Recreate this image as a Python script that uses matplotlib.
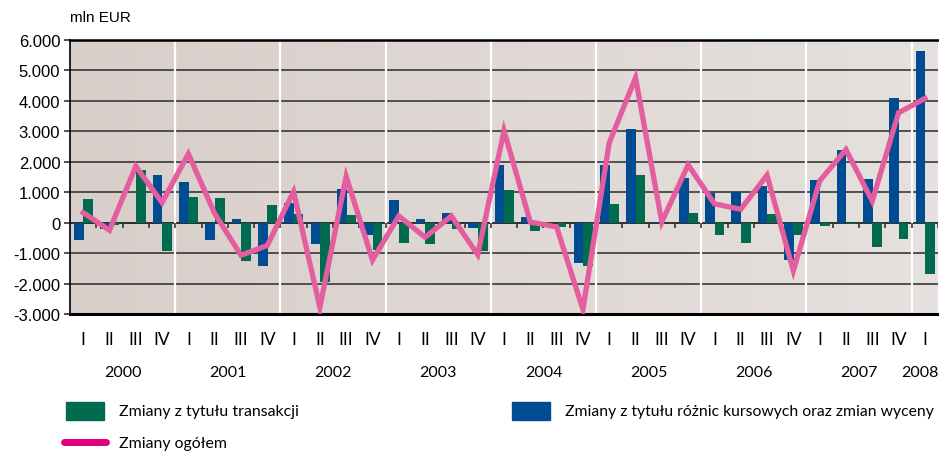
import matplotlib
matplotlib.use("Agg")
import matplotlib.pyplot as plt
import numpy as np

# quarterly data 2000 Q1 .. 2008 Q1, mln EUR
years = [2000, 2001, 2002, 2003, 2004, 2005, 2006, 2007, 2008]
quarters = ["I", "II", "III", "IV"]

transakcje = [790, -80, 1740, -940, 850, 820, -1270, 590,
              300, -1950, 240, -910, -660, -690, -220, -940,
              1060, -280, -150, -1430, 620, 1570, -20, 330,
              -410, -660, 300, -410, -120, -50, -810, -550,
              -1670]
kursowe = [-580, -200, 0, 1570, 1340, -580, 130, -1430,
           650, -690, 1110, -410, 750, 130, 330, -160,
           1880, 190, -20, -1340, 1900, 3080, 30, 1480,
           990, 1000, 1190, -1210, 1410, 2390, 1440, 4100,
           5640]
ogolem = [330, -250, 1850, 660, 2260, 300, -1070, -750,
          1020, -2780, 1520, -1230, 220, -480, 220, -1050,
          3020, 20, -140, -2850, 2620, 4760, 20, 1900,
          620, 440, 1560, -1580, 1370, 2400, 710, 3610,
          4080]

y_ticks = [-3000, -2000, -1000, 0, 1000, 2000, 3000, 4000, 5000, 6000]

GREEN = "#006b4e"
BLUE = "#004c93"
PINK = "#e35d9f"
PINK_LEG = "#e0007a"

NARROW = ["Lato", "DejaVu Sans"]
REG = ["Liberation Sans", "DejaVu Sans"]

W, H = 939, 452
n = len(ogolem)
x = np.arange(n)

fig = plt.figure(figsize=(W / 100, H / 100), dpi=100)
ax = fig.add_axes([70 / W, 137 / H, 868 / W, 274 / H])
renderer = fig.canvas.get_renderer()


def fit_width(t, width_px):
    # shrink/grow the font so the text spans about width_px
    bb = t.get_window_extent(renderer=renderer)
    t.set_fontsize(t.get_fontsize() * width_px / bb.width)


# background gradient
grad = np.linspace(0, 1, 256).reshape(1, -1)
c0 = np.array([0xd8, 0xce, 0xca]) / 255
c1 = np.array([0xe6, 0xe1, 0xde]) / 255
img = c0[None, None, :] * (1 - grad[..., None]) + c1[None, None, :] * grad[..., None]
ax.imshow(img, extent=[-0.5, n - 0.5, -3000, 6000], aspect="auto", zorder=0)

# gridlines
for v in y_ticks[1:-1]:
    ax.axhline(v, color="#2a2a2a" if v != 0 else "black", lw=1.1, zorder=1)

# year separators
for k in range(1, len(years)):
    ax.axvline(4 * k - 0.5, color="white", lw=1.6, zorder=1)

w = 0.37
ax.bar(x - 0.17, kursowe, width=w, color=BLUE, zorder=2)
ax.bar(x + 0.19, transakcje, width=w, color=GREEN, zorder=2)
ax.plot(x, ogolem, color=PINK, lw=3.8, zorder=3, solid_joinstyle="miter")

# small ticks on the zero line at quarter boundaries
ax.vlines(np.arange(n) + 0.5, -170, 0, color="#333333", lw=1.2, zorder=2)

ax.set_xlim(-0.5, n - 0.5)
ax.set_ylim(-3000, 6000)
ax.set_yticks(y_ticks)
ax.set_yticklabels(["{:,}".format(v).replace(",", ".") for v in y_ticks],
                   fontsize=12, family=REG)
ax.tick_params(axis="y", length=4, width=1.2, pad=3, color="#333333")
ax.set_xticks([])

ax.spines["right"].set_visible(False)
ax.spines["left"].set_linewidth(1.2)
ax.spines["top"].set_linewidth(1.8)
ax.spines["bottom"].set_linewidth(2.2)

# quarter and year labels
px = 9000 / 274
for i in range(n):
    ax.text(i, -3000 - 25 * px, quarters[i % 4], ha="center", va="center",
            fontsize=12.5, family=NARROW, clip_on=False)
for k, yr in enumerate(years):
    xc = 4 * k + 1.5 if yr != 2008 else 31.8
    t = ax.text(xc, -3000 - 58 * px, str(yr), ha="center", va="center",
                fontsize=12, family=NARROW, clip_on=False)
    fit_width(t, 37)

fig.text(70 / W, 1 - 18 / H, "mln EUR", fontsize=11, family=REG,
         ha="left", va="center")


# legend
def leg_patch(x0, color, label, width_px):
    fig.patches.append(plt.Rectangle((x0 / W, 1 - 421 / H), 38 / W, 18 / H,
                                     transform=fig.transFigure, color=color))
    t = fig.text((x0 + 53) / W, 1 - 412 / H, label, fontsize=12, family=NARROW,
                 ha="left", va="center")
    fit_width(t, width_px)


leg_patch(66, GREEN, "Zmiany z tytułu transakcji", 178)
leg_patch(512, BLUE, "Zmiany z tytułu różnic kursowych oraz zmian wyceny", 368)
fig.add_artist(plt.Line2D([64 / W, 106 / W], [1 - 443 / H, 1 - 443 / H],
                          color=PINK_LEG, lw=5, solid_capstyle="round"))
t = fig.text(119 / W, 1 - 444 / H, "Zmiany ogółem", fontsize=12, family=NARROW,
             ha="left", va="center")
fit_width(t, 108)

fig.savefig("out.png", dpi=100)
